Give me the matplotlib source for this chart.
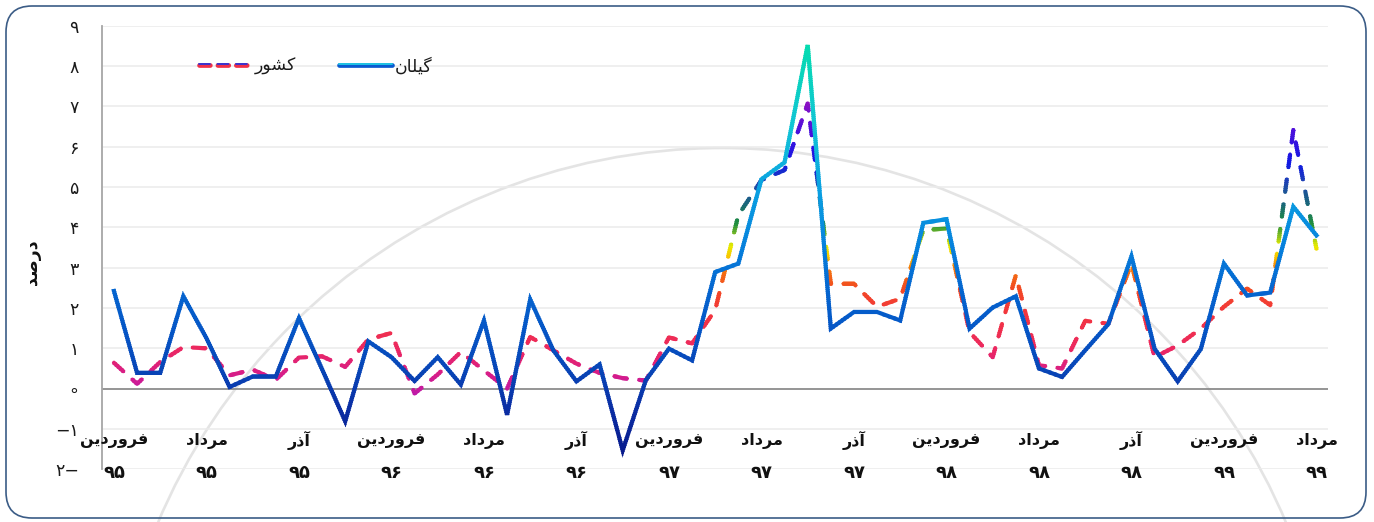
import numpy as np
import matplotlib
matplotlib.use("Agg")
import matplotlib.pyplot as plt
from matplotlib.colors import LinearSegmentedColormap, Normalize
from matplotlib.patches import Rectangle, FancyBboxPatch, Circle
from matplotlib.transforms import IdentityTransform, blended_transform_factory

plt.rcParams['font.family'] = ['DejaVu Sans']

# ---------------- data ----------------
# months Farvardin 95 ... Mordad 99 (53 months)
guilan = [2.42, 0.39, 0.39, 2.29, 1.25, 0.04, 0.30, 0.30, 1.75, 0.48,
          -0.81, 1.17, 0.78, 0.19, 0.78, 0.10, 1.69, -0.65, 2.21, 0.95,
          0.18, 0.60, -1.53, 0.21, 0.99, 0.70, 2.89, 3.10, 5.19, 5.61,
          8.52, 1.49, 1.90, 1.90, 1.69, 4.11, 4.20, 1.49, 2.01, 2.29,
          0.50, 0.29, 0.95, 1.60, 3.28, 0.99, 0.18, 0.98, 3.10, 2.31,
          2.38, 4.51, 3.80]
country = [0.64, 0.12, 0.66, 1.03, 1.00, 0.33, 0.47, 0.22, 0.77, 0.80,
           0.54, 1.22, 1.38, -0.12, 0.35, 0.91, 0.45, 0.00, 1.28, 0.95,
           0.62, 0.39, 0.26, 0.20, 1.27, 1.12, 1.95, 4.30, 5.17, 5.42,
           7.07, 2.60, 2.60, 2.03, 2.23, 3.93, 3.97, 1.40, 0.78, 2.81,
           0.58, 0.50, 1.68, 1.61, 3.10, 0.78, 1.07, 1.49, 2.03, 2.48,
           2.07, 6.41, 3.47]

# month names (visual order presentation forms)
FARVARDIN = "\uFEE6\uFEF3\uFEA9\uFEAD\uFEED\uFEAE\uFED3"
MORDAD = "\uFEA9\uFE8D\uFEA9\uFEAE\uFEE3"
AZAR = "\uFEAD\uFEAB\uFE81"
tick_months = [FARVARDIN, MORDAD, AZAR] * 4 + [FARVARDIN, MORDAD]
tick_years = ["\u06f9\u06f5"] * 3 + ["\u06f9\u06f6"] * 3 + ["\u06f9\u06f7"] * 3 + \
             ["\u06f9\u06f8"] * 3 + ["\u06f9\u06f9"] * 2
tick_pos = list(range(0, 53, 4))

y_ticks = list(range(-2, 10))
y_labels = ["\u06f2\u2212", "\u2212\u06f1", "\u2218", "\u06f1", "\u06f2", "\u06f3",
            "\u06f4", "\u06f5", "\u06f6", "\u06f7", "\u06f8", "\u06f9"]

label_country = "\uFEAD\uFEEE\uFEB8\uFEDB"        # کشور
label_guilan = "\uFEE5\uFE8E\uFEE0\uFEF4\uFB94"     # گیلان
ylabel_text = "\uFEAA\uFEBB\uFEAD\uFEA9"           # درصد

x = np.arange(len(guilan))

# ---------------- figure ----------------
W, H = 1374, 522
fig = plt.figure(figsize=(W / 100, H / 100), dpi=100)
fig.patch.set_facecolor('white')
ax = fig.add_axes([102.4 / W, 1 - 469.3 / H, (1328 - 102.4) / W, (469.3 - 25.6) / H])
ax.patch.set_alpha(0)
ax.set_xlim(-0.5, 52.5)
ax.set_ylim(-2, 9)

# border
border = FancyBboxPatch((6, 4), 1360, 512, boxstyle="round,pad=0,rounding_size=26",
                        transform=IdentityTransform(), facecolor='none',
                        edgecolor='#3b5c86', linewidth=1.2)
fig.patches.append(border)

# faint watermark arc
ax.add_patch(Circle((722, H - 760), 612, transform=IdentityTransform(), fill=False,
                    edgecolor='#e4e4e4', linewidth=1.9, zorder=0.3, clip_on=False))

# grid
for t in y_ticks:
    if t != 0:
        ax.axhline(t, color='#ebebeb', lw=1.1, zorder=0.5)
ax.axhline(0, color='#8c8c8c', lw=1.3, zorder=0.6)
for s in ['top', 'right', 'bottom']:
    ax.spines[s].set_visible(False)
ax.spines['left'].set_color('#a6a6a6')
ax.spines['left'].set_linewidth(1.3)

# gradient colormaps
def make_cmap(stops, vmin, vmax):
    pos = [(v - vmin) / (vmax - vmin) for v, _ in stops]
    return LinearSegmentedColormap.from_list('c', list(zip(pos, [c for _, c in stops]))), Normalize(vmin, vmax)

g_cmap, g_norm = make_cmap([(-1.6, '#081a8c'), (-0.5, '#0a2ea4'), (0.5, '#0846b8'),
                            (1.5, '#0556c6'), (2.5, '#0566d0'), (3.5, '#0680dc'),
                            (5.0, '#0aa2e2'), (6.5, '#12c4d6'), (8.6, '#04dcae')], -1.6, 8.6)
c_cmap, c_norm = make_cmap([(-0.3, '#b818b0'), (0.3, '#d41c8c'), (1.0, '#ec2860'),
                            (1.8, '#f23440'), (2.5, '#f24a22'), (3.0, '#f47a0c'),
                            (3.3, '#f8c800'), (3.55, '#e8ec00'), (3.8, '#88c020'),
                            (4.1, '#20903c'), (4.6, '#1a6878'), (5.1, '#1e44b0'),
                            (5.6, '#1018e4'), (6.4, '#4a10dc'), (7.2, '#9410c0')], -0.3, 7.2)

def gradient_line(xv, yv, cmap, norm, zorder, **kw):
    edges = np.linspace(-2.5, 9.5, 241)
    for lo, hi in zip(edges[:-1], edges[1:]):
        ln, = ax.plot(xv, yv, color=cmap(norm(np.clip((lo + hi) / 2, norm.vmin, norm.vmax))),
                      zorder=zorder, **kw)
        rect = Rectangle((-5, lo - 0.012), 70, hi - lo + 0.024, transform=ax.transData)
        ln.set_clip_path(rect)

gradient_line(x, country, c_cmap, c_norm, 2, lw=3.0, linestyle=(0, (3, 3)),
              dash_capstyle='round')
gradient_line(x, guilan, g_cmap, g_norm, 3, lw=3.0, solid_joinstyle='miter')

# y ticks
ax.set_yticks(y_ticks)
ax.set_yticklabels(y_labels, fontsize=12.5, color='#1a1a1a')
ax.tick_params(axis='y', length=0, pad=17)
ax.set_xticks([])

# x labels
tr = blended_transform_factory(ax.transData, ax.transAxes)
for p, m, yr in zip(tick_pos, tick_months, tick_years):
    ax.text(p, 0.064, m, transform=tr, ha='center', va='center', fontsize=11.5,
            fontweight='bold', color='#111111')
    ax.text(p, -0.008, yr, transform=tr, ha='center', va='center', fontsize=13,
            fontweight='bold', color='#111111')

# y axis title
fig.text(32 / W, 1 - 262 / H, ylabel_text, rotation=90, ha='center', va='center',
         fontsize=12.5, fontweight='bold', color='#111111')

# legend (manual)
ly = 0.911
ax.plot([0.0790, 0.1185], [ly, ly], transform=ax.transAxes, color='#f03048', lw=3.4,
        linestyle=(0, (2.3, 1.6)), dash_capstyle='round', clip_on=False, zorder=5)
ax.plot([0.0790, 0.1185], [ly + 0.003, ly + 0.003], transform=ax.transAxes,
        color='#3a34d0', lw=1.4, linestyle=(0, (5.6, 3.9)), dash_capstyle='round',
        clip_on=False, zorder=6)
ax.text(0.1245, 0.908, label_country, transform=ax.transAxes, ha='left', va='center',
        fontsize=12.5, color='#1a1a1a')
ax.plot([0.193, 0.236], [ly, ly], transform=ax.transAxes, color='#0a5ad0', lw=3.4,
        solid_capstyle='round', clip_on=False, zorder=5)
ax.plot([0.193, 0.236], [ly + 0.003, ly + 0.003], transform=ax.transAxes,
        color='#20c4e4', lw=1.4, solid_capstyle='round', clip_on=False, zorder=6)
ax.text(0.2387, 0.908, label_guilan, transform=ax.transAxes, ha='left', va='center',
        fontsize=12.5, color='#1a1a1a')

fig.savefig('out.png', dpi=100)
